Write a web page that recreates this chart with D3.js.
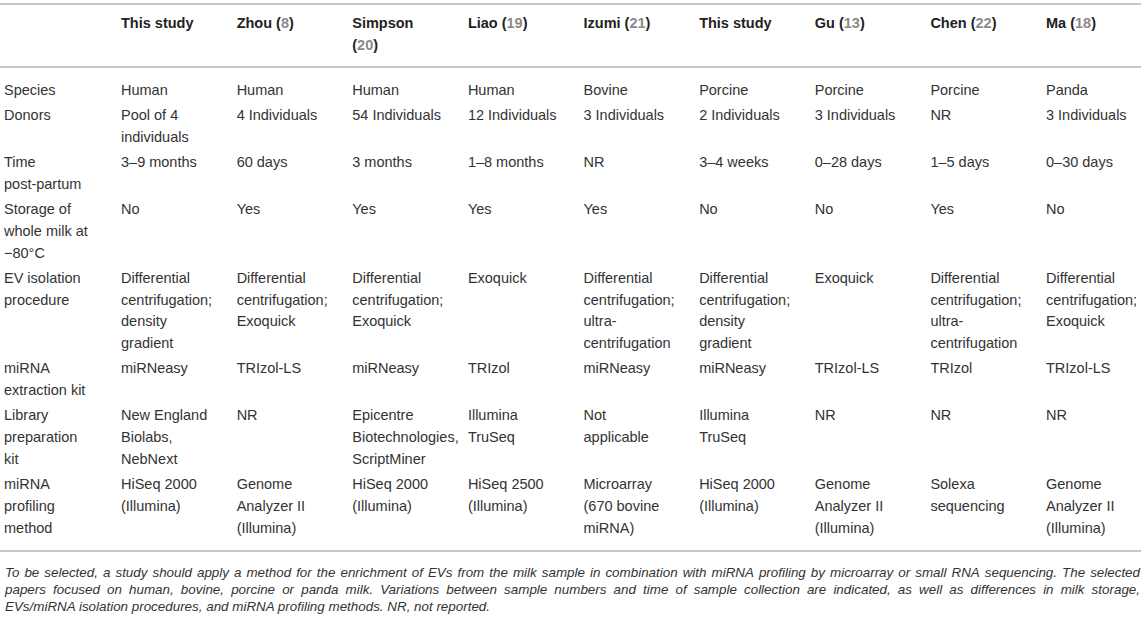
<!DOCTYPE html>
<html>
<head>
<meta charset="utf-8">
<script src="https://cdn.jsdelivr.net/npm/d3@7"></script>
<style>
  body { margin: 0; background: #fff; }
  svg { display: block; }
  text { font-family: "Liberation Sans", Arial, sans-serif; }
</style>
</head>
<body>
<svg id="table"></svg>
<script>
// column headers (author + reference number)
var authors = ["This study", "Zhou", "Simpson", "Liao", "Izumi", "This study", "Gu", "Chen", "Ma"];
var refs = [null, 8, 20, 19, 21, null, 13, 22, 18];

// row labels, already broken into lines as in the original
var rowLabels = [
  ["Species"],
  ["Donors"],
  ["Time", "post-partum"],
  ["Storage of", "whole milk at", "\u221280\u00b0C"],
  ["EV isolation", "procedure"],
  ["miRNA", "extraction kit"],
  ["Library", "preparation", "kit"],
  ["miRNA", "profiling", "method"]
];

var species = ["Human", "Human", "Human", "Human", "Bovine", "Porcine", "Porcine", "Porcine", "Panda"];
var donors = [["Pool of 4", "individuals"], "4 Individuals", "54 Individuals", "12 Individuals", "3 Individuals", "2 Individuals", "3 Individuals", "NR", "3 Individuals"];
var timePostPartum = ["3\u20139 months", "60 days", "3 months", "1\u20138 months", "NR", "3\u20134 weeks", "0\u201328 days", "1\u20135 days", "0\u201330 days"];
var storage = ["No", "Yes", "Yes", "Yes", "Yes", "No", "No", "Yes", "No"];
var evIsolation = [
  ["Differential", "centrifugation;", "density", "gradient"],
  ["Differential", "centrifugation;", "Exoquick"],
  ["Differential", "centrifugation;", "Exoquick"],
  "Exoquick",
  ["Differential", "centrifugation;", "ultra-", "centrifugation"],
  ["Differential", "centrifugation;", "density", "gradient"],
  "Exoquick",
  ["Differential", "centrifugation;", "ultra-", "centrifugation"],
  ["Differential", "centrifugation;", "Exoquick"]
];
var extractionKit = ["miRNeasy", "TRIzol-LS", "miRNeasy", "TRIzol", "miRNeasy", "miRNeasy", "TRIzol-LS", "TRIzol", "TRIzol-LS"];
var libraryKit = [
  ["New England", "Biolabs,", "NebNext"], "NR",
  ["Epicentre", "Biotechnologies,", "ScriptMiner"],
  ["Illumina", "TruSeq"], ["Not", "applicable"], ["Illumina", "TruSeq"], "NR", "NR", "NR"
];
var profiling = [
  ["HiSeq 2000", "(Illumina)"], ["Genome", "Analyzer II", "(Illumina)"], ["HiSeq 2000", "(Illumina)"],
  ["HiSeq 2500", "(Illumina)"], ["Microarray", "(670 bovine", "miRNA)"], ["HiSeq 2000", "(Illumina)"],
  ["Genome", "Analyzer II", "(Illumina)"], ["Solexa", "sequencing"], ["Genome", "Analyzer II", "(Illumina)"]
];

var footnote = [
  "To be selected, a study should apply a method for the enrichment of EVs from the milk sample in combination with miRNA profiling by microarray or small RNA sequencing. The selected",
  "papers focused on human, bovine, porcine or panda milk. Variations between sample numbers and time of sample collection are indicated, as well as differences in milk storage,",
  "EVs/miRNA isolation procedures, and miRNA profiling methods. NR, not reported."
];

var rows = [species, donors, timePostPartum, storage, evIsolation, extractionKit, libraryKit, profiling];

var screen = {width: 1145, height: 618};
var lineH = 21.7, rowPad = 3.6, firstRow = 90;
var textColor = "#333333", refColor = "#8a8a8a", ruleColor = "#b4b4b4";

var toLines = function(v) { return Array.isArray(v) ? v : [v]; };

var svg = d3.select("#table")
  .attr("width", screen.width)
  .attr("height", screen.height);

var xScale = d3.scaleLinear()
  .domain([0, authors.length - 1])
  .range([121, 1046]);

// row positions: each row as tall as its tallest cell
var rowY = [];
var y = firstRow;
rows.forEach(function(r, i) {
  rowY.push(y);
  var n = d3.max(r.map(function(v) { return toLines(v).length; }).concat(rowLabels[i].length));
  y += n * lineH + rowPad;
});

// rules
var rules = [4, 67, 551];
svg.selectAll("line.rule")
  .data(rules)
  .enter()
  .append("line")
  .attr("class", "rule")
  .attr("x1", 0).attr("x2", 1141)
  .attr("y1", function(d) { return d; })
  .attr("y2", function(d) { return d; })
  .attr("stroke", ruleColor)
  .attr("stroke-width", 1.6);

// header
var head = svg.append("g").attr("font-size", 14.5).attr("font-weight", "bold").attr("fill", "#222");
authors.forEach(function(a, i) {
  var t = head.append("text").attr("x", xScale(i)).attr("y", 23).attr("dy", "0.35em");
  if (refs[i] == null) {
    t.text(a);
  } else if (a == "Simpson") {
    t.text(a);
    var t2 = head.append("text").attr("x", xScale(i)).attr("y", 23 + lineH).attr("dy", "0.35em");
    t2.append("tspan").text("(");
    t2.append("tspan").attr("fill", refColor).text(refs[i]);
    t2.append("tspan").text(")");
  } else {
    t.append("tspan").text(a + " (");
    t.append("tspan").attr("fill", refColor).text(refs[i]);
    t.append("tspan").text(")");
  }
});

// body
var body = svg.append("g").attr("font-size", 14.5).attr("fill", textColor);
var drawCell = function(lines, x, y0) {
  toLines(lines).forEach(function(s, k) {
    body.append("text")
      .attr("x", x)
      .attr("y", y0 + k * lineH)
      .attr("dy", "0.35em")
      .text(s);
  });
};
rows.forEach(function(r, i) {
  drawCell(rowLabels[i], 4, rowY[i]);
  r.forEach(function(v, j) { drawCell(v, xScale(j), rowY[i]); });
});

// footnote, justified except the last line
var foot = svg.append("g")
  .attr("font-size", 13.4)
  .attr("font-style", "italic")
  .attr("fill", textColor);
var footX0 = 5, footX1 = 1140;
footnote.forEach(function(line, i) {
  var yy = 572 + i * 17;
  if (i == footnote.length - 1) {
    foot.append("text").attr("x", footX0).attr("y", yy).attr("dy", "0.35em").text(line);
    return;
  }
  var words = line.split(" ");
  var widths = words.map(function(w) {
    var t = foot.append("text").text(w);
    var wd = t.node().getComputedTextLength();
    t.remove();
    return wd;
  });
  var gap = (footX1 - footX0 - d3.sum(widths)) / (words.length - 1);
  var x = footX0;
  words.forEach(function(w, k) {
    foot.append("text").attr("x", x).attr("y", yy).attr("dy", "0.35em").text(w);
    x += widths[k] + gap;
  });
});
</script>
</body>
</html>
